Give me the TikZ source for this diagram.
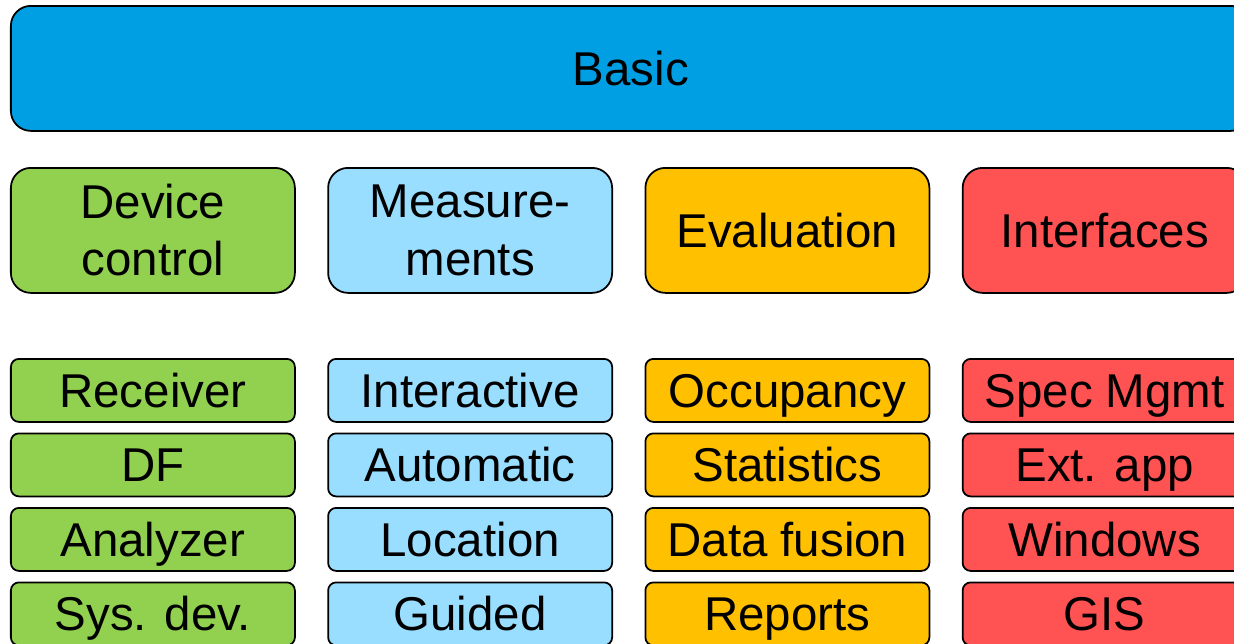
\documentclass[tikz,border=0pt]{standalone}
\usepackage{fontspec}
\setmainfont{Liberation Sans}
\usetikzlibrary{positioning}

\definecolor{basicblue}{RGB}{0,159,227}
\definecolor{devgreen}{RGB}{146,208,80}
\definecolor{measblue}{RGB}{153,221,255}
\definecolor{evalorange}{RGB}{255,192,0}
\definecolor{ifacered}{RGB}{255,82,82}

\begin{document}
\begin{tikzpicture}[node distance=0.195cm and 0.63cm,
    box/.style={draw=black,line width=1pt,rounded corners=0.4cm,
                minimum width=5.68cm,minimum height=2.5cm,inner sep=0pt,
                align=center,font=\fontsize{27}{32.5}\selectfont},
    oneline/.style={text height=19.4pt,text depth=0pt},
    item/.style={box,oneline,rounded corners=0.16cm,minimum height=1.26cm}]

  \clip (0,0) rectangle (24.68,-12.86);

  % top bar
  \node[box,oneline,anchor=north west,minimum width=24.8cm,fill=basicblue] (basic) at (0.2,-0.1) {Basic};

  % module headers
  \node[box,anchor=north west,fill=devgreen] (dev) at (0.2,-3.34) {Device\\control};
  \node[box,fill=measblue,right=of dev] (meas) {Measure-\\ments};
  \node[box,oneline,fill=evalorange,right=of meas] (eval) {Evaluation};
  \node[box,oneline,fill=ifacered,right=of eval] (iface) {Interfaces};

  % device control
  \node[item,anchor=north west,fill=devgreen] (recv) at (0.2,-7.16) {Receiver};
  \node[item,fill=devgreen,below=of recv] (df) {DF};
  \node[item,fill=devgreen,below=of df] (anlz) {Analyzer};
  \node[item,fill=devgreen,below=of anlz] (sysdev) {Sys. dev.};

  % measurements
  \node[item,fill=measblue,right=of recv] (inter) {Interactive};
  \node[item,fill=measblue,below=of inter] (auto) {Automatic};
  \node[item,fill=measblue,below=of auto] (loc) {Location};
  \node[item,fill=measblue,below=of loc] (guid) {Guided};

  % evaluation
  \node[item,fill=evalorange,right=of inter] (occ) {Occupancy};
  \node[item,fill=evalorange,below=of occ] (stat) {Statistics};
  \node[item,fill=evalorange,below=of stat] (fus) {Data fusion};
  \node[item,fill=evalorange,below=of fus] (rep) {Reports};

  % interfaces
  \node[item,fill=ifacered,right=of occ] (spec) {Spec Mgmt};
  \node[item,fill=ifacered,below=of spec] (ext) {Ext. app};
  \node[item,fill=ifacered,below=of ext] (win) {Windows};
  \node[item,fill=ifacered,below=of win] (gis) {GIS};
\end{tikzpicture}
\end{document}
